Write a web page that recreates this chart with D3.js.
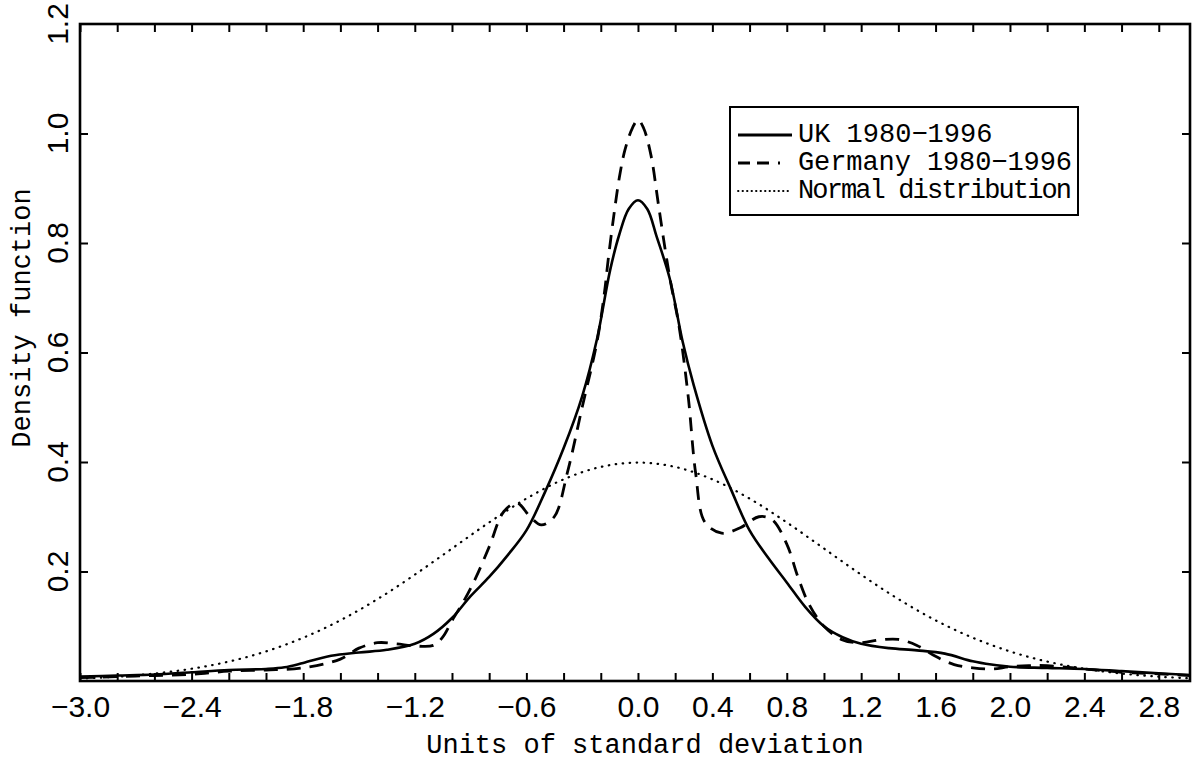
<!DOCTYPE html>
<html>
<head>
<meta charset="utf-8">
<script src="https://cdn.jsdelivr.net/npm/d3@7"></script>
<style>
  body { margin: 0; background: #fff; }
  .tick text { font-family: "Liberation Sans", Arial, sans-serif; font-size: 30px; fill: #000; }
  .title { font-family: "Liberation Mono", "Courier New", monospace; font-size: 27px; fill: #000; }
</style>
</head>
<body>
<svg id="chart" width="1192" height="764"></svg>
<script>
// tick values
const xMinorTicks = [-3.0, -2.8, -2.6, -2.4, -2.2, -2.0, -1.8, -1.6, -1.4, -1.2, -1.0, -0.8, -0.6, -0.4, -0.2,
  0.0, 0.2, 0.4, 0.6, 0.8, 1.0, 1.2, 1.4, 1.6, 1.8, 2.0, 2.2, 2.4, 2.6, 2.8];
const xLabelTicks = [-3.0, -2.4, -1.8, -1.2, -0.6, 0.0, 0.4, 0.8, 1.2, 1.6, 2.0, 2.4, 2.8];
const yTicks = [0.2, 0.4, 0.6, 0.8, 1.0, 1.2];

const seriesNames = ["UK 1980\u22121996", "Germany 1980\u22121996", "Normal distribution"];

// UK 1980-1996 (solid)
const ukX = [-3.0, -2.8, -2.6, -2.4, -2.2, -2.0, -1.9, -1.8, -1.65, -1.5, -1.35, -1.2, -1.1, -1.0, -0.9, -0.8,
  -0.7, -0.6, -0.5, -0.4, -0.3, -0.22, -0.15, -0.1, -0.05, 0.0, 0.05, 0.1, 0.17, 0.24, 0.3, 0.4, 0.5, 0.6,
  0.7, 0.8, 0.9, 1.0, 1.1, 1.2, 1.35, 1.5, 1.65, 1.8, 1.9, 2.0, 2.2, 2.4, 2.6, 2.8, 2.97];
const ukY = [0.008, 0.010, 0.012, 0.016, 0.020, 0.022, 0.025, 0.033, 0.046, 0.052, 0.057, 0.068, 0.086, 0.115,
  0.155, 0.190, 0.230, 0.275, 0.345, 0.425, 0.520, 0.625, 0.750, 0.816, 0.862, 0.878, 0.862, 0.812, 0.736,
  0.620, 0.540, 0.430, 0.350, 0.275, 0.225, 0.180, 0.135, 0.100, 0.080, 0.068, 0.060, 0.056, 0.050, 0.036,
  0.030, 0.026, 0.024, 0.022, 0.018, 0.014, 0.011];

// Germany 1980-1996 (dashed)
const deX = [-3.0, -2.8, -2.6, -2.4, -2.2, -2.0, -1.8, -1.6, -1.5, -1.4, -1.3, -1.2, -1.1, -1.05, -1.0, -0.93,
  -0.87, -0.8, -0.72, -0.65, -0.58, -0.52, -0.45, -0.38, -0.3, -0.22, -0.18, -0.16, -0.13, -0.1, -0.07, -0.03,
  0.0, 0.03, 0.07, 0.11, 0.15, 0.18, 0.22, 0.27, 0.31, 0.36, 0.45, 0.55, 0.65, 0.72, 0.8, 0.86, 0.92, 1.0,
  1.1, 1.2, 1.3, 1.4, 1.5, 1.6, 1.7, 1.8, 1.9, 2.0, 2.1, 2.2, 2.4, 2.6, 2.8, 2.97];
const deY = [0.006, 0.008, 0.010, 0.012, 0.018, 0.020, 0.024, 0.040, 0.060, 0.070, 0.068, 0.064, 0.065, 0.080,
  0.110, 0.150, 0.190, 0.245, 0.310, 0.325, 0.300, 0.285, 0.300, 0.380, 0.500, 0.620, 0.710, 0.770, 0.850,
  0.920, 0.970, 1.010, 1.025, 1.010, 0.960, 0.870, 0.780, 0.720, 0.650, 0.520, 0.380, 0.290, 0.270, 0.280,
  0.300, 0.295, 0.250, 0.190, 0.140, 0.100, 0.075, 0.070, 0.075, 0.076, 0.065, 0.045, 0.030, 0.024, 0.022,
  0.026, 0.028, 0.028, 0.022, 0.016, 0.013, 0.010];

// Normal distribution (dotted)
const normalX = [-3.0, -2.8, -2.6, -2.4, -2.2, -2.0, -1.8, -1.6, -1.4, -1.2, -1.0, -0.8, -0.6, -0.4, -0.2,
  0.0, 0.2, 0.4, 0.6, 0.8, 1.0, 1.2, 1.4, 1.6, 1.8, 2.0, 2.2, 2.4, 2.6, 2.8, 3.0];
const normalY = [0.0044, 0.0079, 0.0136, 0.0224, 0.0355, 0.0540, 0.0790, 0.1109, 0.1497, 0.1942, 0.2420,
  0.2897, 0.3332, 0.3683, 0.3910, 0.3989, 0.3910, 0.3683, 0.3332, 0.2897, 0.2420, 0.1942, 0.1497, 0.1109,
  0.0790, 0.0540, 0.0355, 0.0224, 0.0136, 0.0079, 0.0044];

const svg = d3.select("#chart");
const [plotLeft, plotRight, plotTop, plotBottom] = [80, 1190, 24, 681];

const x = d3.scaleLinear().domain([-3.0, 2.968]).range([plotLeft, plotRight]);
const y = d3.scaleLinear().domain([0, 1.2]).range([plotBottom, plotTop]);

svg.append("defs").append("clipPath").attr("id", "plot-clip")
  .append("rect").attr("x", plotLeft).attr("y", plotTop)
  .attr("width", plotRight - plotLeft).attr("height", plotBottom - plotTop);

const fmt = d3.format(".1f");
const minus = (v) => fmt(v).replace("-", "\u2212");

// axes with inward ticks
const bottomAxis = svg.append("g").attr("transform", `translate(0,${plotBottom})`)
  .call(d3.axisBottom(x).tickValues(xMinorTicks).tickSizeInner(-8).tickSizeOuter(0).tickPadding(15)
    .tickFormat((d) => xLabelTicks.some((t) => Math.abs(t - d) < 1e-6) ? minus(d) : ""));
svg.append("g").attr("transform", `translate(0,${plotTop})`)
  .call(d3.axisTop(x).tickValues(xMinorTicks).tickSizeInner(-8).tickSizeOuter(0).tickFormat(""));
svg.append("g").attr("transform", `translate(${plotLeft},0)`)
  .call(d3.axisLeft(y).tickValues(yTicks.slice(0, -1)).tickSizeInner(-8).tickSizeOuter(0).tickFormat(""));
svg.append("g").attr("transform", `translate(${plotRight},0)`)
  .call(d3.axisRight(y).tickValues(yTicks.slice(0, -1)).tickSizeInner(-8).tickSizeOuter(0).tickFormat(""));

svg.selectAll(".domain").remove();
svg.selectAll(".tick line").attr("stroke", "#000").attr("stroke-width", 2);
bottomAxis.selectAll(".tick text").attr("fill", "#000");

// rotated y tick labels
svg.append("g").selectAll("text").data(yTicks).join("text")
  .attr("class", "ylab")
  .attr("transform", (d) => `translate(68,${y(d)}) rotate(-90)`)
  .attr("text-anchor", "middle")
  .style("font-family", "'Liberation Sans', Arial, sans-serif")
  .style("font-size", "30px")
  .text(fmt);

// frame
svg.append("rect")
  .attr("x", plotLeft).attr("y", plotTop)
  .attr("width", plotRight - plotLeft).attr("height", plotBottom - plotTop)
  .attr("fill", "none").attr("stroke", "#000").attr("stroke-width", 2.6);

// curves
const line = d3.line()
  .x((d) => x(d[0]))
  .y((d) => y(d[1]))
  .curve(d3.curveCatmullRom.alpha(0.5));

const plot = svg.append("g").attr("clip-path", "url(#plot-clip)");

plot.append("path")
  .datum(d3.zip(normalX, normalY))
  .attr("d", line)
  .attr("fill", "none").attr("stroke", "#000").attr("stroke-width", 2.2)
  .attr("stroke-linecap", "round").attr("stroke-dasharray", "0.5,6.5");

plot.append("path")
  .datum(d3.zip(deX, deY))
  .attr("d", line)
  .attr("fill", "none").attr("stroke", "#000").attr("stroke-width", 2.8)
  .attr("stroke-dasharray", "14,9");

plot.append("path")
  .datum(d3.zip(ukX, ukY))
  .attr("d", line)
  .attr("fill", "none").attr("stroke", "#000").attr("stroke-width", 2.6);

// axis titles
svg.append("text").attr("class", "title")
  .attr("x", 645).attr("y", 753).attr("text-anchor", "middle")
  .text("Units of standard deviation");
svg.append("text").attr("class", "title")
  .attr("transform", "translate(30,318) rotate(-90)").attr("text-anchor", "middle")
  .text("Density function");

// legend
const legend = svg.append("g").attr("transform", "translate(730,107)");
const [legendW, legendH] = [348, 108];
legend.append("rect").attr("width", legendW).attr("height", legendH)
  .attr("fill", "#fff").attr("stroke", "#000").attr("stroke-width", 2);

const legendStyles = [
  { dash: null, width: 3 },
  { dash: "12,7,12,9,2,40", width: 2.8 },
  { dash: "0.5,4", width: 1.8, cap: "round" },
];

const rows = legend.selectAll("g.row").data(seriesNames).join("g")
  .attr("class", "row")
  .attr("transform", (d, i) => `translate(0,${35 + i * 28})`);

rows.append("line")
  .attr("x1", 8).attr("x2", 62).attr("y1", -7).attr("y2", -7)
  .attr("stroke", "#000")
  .attr("stroke-width", (d, i) => legendStyles[i].width)
  .attr("stroke-dasharray", (d, i) => legendStyles[i].dash)
  .attr("stroke-linecap", (d, i) => legendStyles[i].cap || "butt");

rows.append("text").attr("class", "title")
  .attr("x", 68).attr("y", 0)
  .text((d) => d)
  .each(function () {
    const avail = legendW - 74;
    if (this.getComputedTextLength() > avail) {
      d3.select(this).attr("textLength", avail).attr("lengthAdjust", "spacing");
    }
  });
</script>
</body>
</html>
